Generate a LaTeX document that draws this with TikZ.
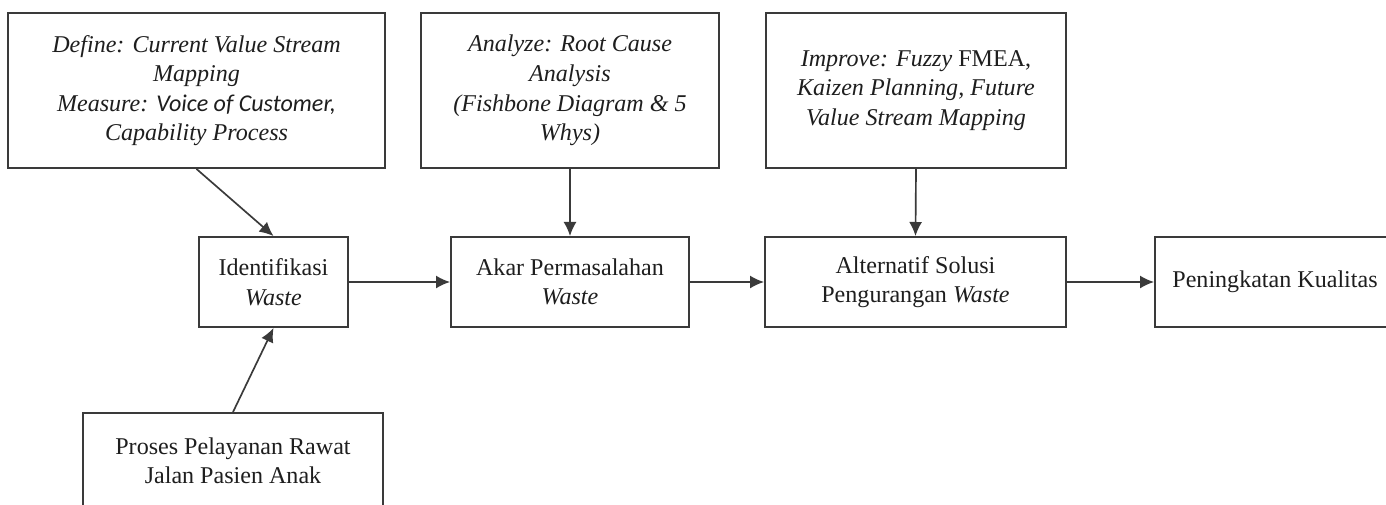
\documentclass[tikz,border=0pt]{standalone}
\usepackage{fontspec}
\setmainfont{Liberation Serif}
\newfontfamily\calibrifont{Carlito}
\usetikzlibrary{arrows.meta}
\usetikzlibrary{positioning}

\definecolor{garis}{HTML}{3A3A3A}
\definecolor{tulisan}{HTML}{1E1E1E}

\tikzset{
	kotak/.style={draw=garis, line width=1.1pt, fill=white, rectangle, align=center, inner sep=2pt,
		text=tulisan, font=\fontsize{13.7}{16.8}\selectfont},
	kotakbawah/.style={kotak, minimum height=1.8cm},
	panah/.style={draw=garis, line width=0.95pt, -{Latex[length=8pt,width=7.4pt]}}
}

\begin{document}
\begin{tikzpicture}[x=0.02cm, y=-0.02cm]
		\useasboundingbox[fill=white] (0,0) rectangle (1386,504);
		\node[kotak, minimum width=7.54cm, minimum height=3.1cm] (define) at (196.5,90.5)
			{\textit{Define: Current Value Stream}\\ \textit{Mapping}\\ \textit{Measure: }{\calibrifont\itshape Voice of Customer,}\\ \textit{Capability Process}};
		\node[kotak, minimum width=5.96cm, minimum height=3.1cm] (analyze) at (570,90.5)
			{\textit{Analyze: Root Cause}\\ \textit{Analysis}\\ \textit{(Fishbone Diagram \& 5}\\ \textit{Whys)}};
		\node[kotak, minimum width=6.0cm, minimum height=3.1cm] (improve) at (916,90.5)
			{\textit{Improve: Fuzzy} FMEA,\\ \textit{Kaizen Planning, Future}\\ \textit{Value Stream Mapping}};
		\node[kotakbawah, minimum width=2.98cm] (ident) at (273.5,282) {Identifikasi\\ \textit{Waste}};
		\node[kotakbawah, minimum width=4.76cm] (akar) at (570,282) {Akar Permasalahan\\ \textit{Waste}};
		\node[kotakbawah, minimum width=6.02cm] (alt) at (915.5,282) {Alternatif Solusi\\ Pengurangan \textit{Waste}};
		\node[kotakbawah, minimum width=4.8cm] (pen) at (1275,282) {Peningkatan Kualitas};
		\node[kotakbawah, minimum width=6.0cm, minimum height=1.92cm] (proses) at (233,461) {Proses Pelayanan Rawat\\ Jalan Pasien Anak};
		\draw[panah] (define.south) -- (ident.north);
		\draw[panah] (proses.north) -- (ident.south);
		\draw[panah] (analyze.south) -- (akar.north);
		\draw[panah] (improve.south) -- (alt.north);
		\draw[panah] (ident.east) -- (akar.west);
		\draw[panah] (akar.east) -- (alt.west);
		\draw[panah] (alt.east) -- (pen.west);
	    \end{tikzpicture}
\end{document}
